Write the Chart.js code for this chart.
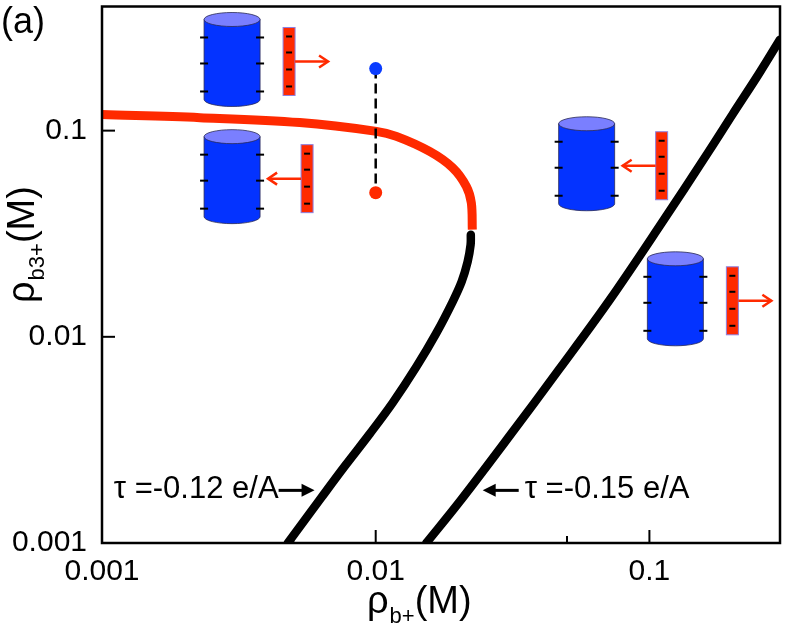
<!DOCTYPE html>
<html><head><meta charset="utf-8">
<script src="https://cdn.jsdelivr.net/npm/chart.js@4.4.1/dist/chart.umd.min.js"></script>
<style>html,body{margin:0;padding:0;background:#fff}#wrap{width:789px;height:632px;position:relative}</style>
</head><body><div id="wrap"><canvas id="c"></canvas></div>
<script>
const FONT = '"Liberation Sans", Arial, Helvetica, sans-serif';

// ---- axes ----
const xRange = [0.001, 0.3];
const yRange = [0.001, 0.4];
const xTickValues = [0.001, 0.01, 0.1];
const xTickLabels = ['0.001', '0.01', '0.1'];
const xMinorTicks = [0.005, 0.05];
const yTickValues = [0.001, 0.01, 0.1];
const yTickLabels = ['0.001', '0.01', '0.1'];

// ---- curves ----
const redBranchX = [0.001, 0.00228, 0.00528, 0.01006, 0.0119, 0.01574, 0.0191, 0.02143, 0.02235, 0.02254];
const redBranchY = [0.1196, 0.1156, 0.1094, 0.0992, 0.0938, 0.0793, 0.0661, 0.0537, 0.0447, 0.0331];

const tau12X = [0.004774, 0.006352, 0.007771, 0.009508, 0.01153, 0.01408, 0.01665, 0.0191, 0.0206, 0.02167, 0.02222, 0.02226];
const tau12Y = [0.001, 0.001671, 0.002391, 0.003382, 0.004782, 0.007152, 0.01042, 0.01479, 0.01849, 0.02313, 0.02797, 0.03127];

const tau15X = [0.01531, 0.02026, 0.03084, 0.04693, 0.07145, 0.1088, 0.1656, 0.2014, 0.2521, 0.3];
const tau15Y = [0.001, 0.001587, 0.003307, 0.006993, 0.01504, 0.03431, 0.0801, 0.1201, 0.1901, 0.2765];

const connectorX = [0.01, 0.01];
const connectorY = [0.2, 0.05];
const blueDotX = [0.01], blueDotY = [0.2];
const redDotX = [0.01], redDotY = [0.05];

// ---- schematic icons (anchor = cylinder left edge / top ellipse centre) ----
const iconX = [0.00236, 0.00236, 0.0466, 0.0983];
const iconY = [0.346, 0.0935, 0.108, 0.0239];
const iconOutward = [true, false, false, true];

// ---- annotations ----
const annotTipX = [0.00598, 0.0246];
const annotTipY = [0.0018, 0.0018];
const annotTexts = ['τ =-0.12 e/A', 'τ =-0.15 e/A'];
const annotSide = ['left', 'right'];

const RED = '#ff2a00';
const BLUE = '#0a3cff';

function pts(xs, ys) { return xs.map((v, i) => ({x: v, y: ys[i]})); }

function line(ctx, x1, y1, x2, y2) { ctx.beginPath(); ctx.moveTo(x1, y1); ctx.lineTo(x2, y2); ctx.stroke(); }

function drawCylinder(ctx, left, cy) {
  const w = 56, h = 80, ry = 7, rx = w / 2, cx = left + rx;
  ctx.save();
  ctx.fillStyle = '#0433ff';
  ctx.strokeStyle = '#2a2a55';
  ctx.lineWidth = 0.8;
  ctx.beginPath();
  ctx.moveTo(left, cy);
  ctx.lineTo(left, cy + h);
  ctx.ellipse(cx, cy + h, rx, ry, 0, Math.PI, 0, true);
  ctx.lineTo(left + w, cy);
  ctx.closePath();
  ctx.fill();
  ctx.stroke();
  ctx.fillStyle = '#7a7fff';
  ctx.beginPath();
  ctx.ellipse(cx, cy, rx, ry, 0, 0, Math.PI * 2);
  ctx.fill();
  ctx.stroke();
  ctx.strokeStyle = '#000';
  ctx.lineWidth = 2;
  [18, 44, 72].forEach(o => {
    line(ctx, left - 4, cy + o, left + 4, cy + o);
    line(ctx, left + w - 4, cy + o, left + w + 4, cy + o);
  });
  ctx.restore();
}

function drawBar(ctx, left, cy, outward) {
  const bx = left + (outward ? 79 : 97), by = cy + 8, bw = 12, bh = 68;
  ctx.save();
  ctx.fillStyle = RED;
  ctx.fillRect(bx, by, bw, bh);
  ctx.strokeStyle = '#8d80e0';
  ctx.lineWidth = 1;
  ctx.strokeRect(bx, by, bw, bh);
  ctx.strokeStyle = '#000';
  ctx.lineWidth = 2;
  [9, 25, 42, 59].forEach(o => line(ctx, bx + 3, by + o, bx + 9, by + o));
  const ay = by + 34;
  ctx.strokeStyle = RED;
  ctx.lineWidth = 2.5;
  let x1, x2, dir;
  if (outward) { x1 = bx + bw; x2 = bx + bw + 33; dir = 1; }
  else { x1 = bx; x2 = bx - 33; dir = -1; }
  line(ctx, x1, ay, x2, ay);
  ctx.beginPath();
  ctx.moveTo(x2 - dir * 9, ay - 6);
  ctx.lineTo(x2, ay);
  ctx.lineTo(x2 - dir * 9, ay + 6);
  ctx.stroke();
  ctx.restore();
}

function drawBlackArrow(ctx, tipX, tipY, dir) {
  ctx.save();
  ctx.strokeStyle = '#000';
  ctx.fillStyle = '#000';
  ctx.lineWidth = 3;
  line(ctx, tipX - dir * 36, tipY, tipX - dir * 8, tipY);
  ctx.beginPath();
  ctx.moveTo(tipX, tipY);
  ctx.lineTo(tipX - dir * 13, tipY - 6.5);
  ctx.lineTo(tipX - dir * 13, tipY + 6.5);
  ctx.closePath();
  ctx.fill();
  ctx.restore();
}

function drawLabelWithSub(ctx, x, y, main1, sub, main2, big, small, subOff) {
  ctx.font = big + 'px ' + FONT;
  ctx.textBaseline = 'alphabetic';
  ctx.textAlign = 'left';
  ctx.fillText(main1, x, y);
  let cx = x + ctx.measureText(main1).width + 1;
  ctx.font = small + 'px ' + FONT;
  ctx.fillText(sub, cx, y + subOff);
  cx += ctx.measureText(sub).width;
  ctx.font = big + 'px ' + FONT;
  ctx.fillText(main2, cx, y);
}

const decor = {
  id: 'decor',
  beforeDatasetsDraw(chart) {
    const {ctx, chartArea: a, scales: {x, y}} = chart;
    ctx.save();
    ctx.strokeStyle = '#000';
    ctx.lineWidth = 2;
    xTickValues.forEach(v => { const p = x.getPixelForValue(v); line(ctx, p, a.bottom, p, a.bottom - 13); });
    xMinorTicks.forEach(v => { const p = x.getPixelForValue(v); line(ctx, p, a.bottom, p, a.bottom - 7); });
    yTickValues.forEach(v => { const p = y.getPixelForValue(v); line(ctx, a.left, p, a.left + 13, p); });
    ctx.restore();
  },
  afterDatasetsDraw(chart) {
    const {ctx, chartArea: a, scales: {x, y}} = chart;
    ctx.save();
    ctx.strokeStyle = '#000';
    ctx.lineWidth = 2.5;
    ctx.strokeRect(a.left, a.top, a.right - a.left, a.bottom - a.top);
    iconX.forEach((v, i) => {
      const px = x.getPixelForValue(v), py = y.getPixelForValue(iconY[i]);
      drawCylinder(ctx, px, py);
      drawBar(ctx, px, py, iconOutward[i]);
    });
    ctx.fillStyle = '#000';
    ctx.font = '31px ' + FONT;
    ctx.textBaseline = 'middle';
    annotTipX.forEach((v, i) => {
      const px = x.getPixelForValue(v), py = y.getPixelForValue(annotTipY[i]);
      if (annotSide[i] === 'left') {
        drawBlackArrow(ctx, px, py, 1);
        ctx.textAlign = 'right';
        ctx.fillText(annotTexts[i], px - 36, py - 1);
      } else {
        drawBlackArrow(ctx, px, py, -1);
        ctx.textAlign = 'left';
        ctx.fillText(annotTexts[i], px + 42, py - 1);
      }
    });
    ctx.restore();
  },
  afterDraw(chart) {
    const ctx = chart.ctx;
    ctx.save();
    ctx.fillStyle = '#000';
    ctx.font = '36px ' + FONT;
    ctx.textAlign = 'left';
    ctx.textBaseline = 'alphabetic';
    ctx.fillText('(a)', 1, 33);
    drawLabelWithSub(ctx, 367, 613, 'ρ', 'b+', '(M)', 38, 22, 10);
    ctx.translate(34, 303);
    ctx.rotate(-Math.PI / 2);
    drawLabelWithSub(ctx, 0, 0, 'ρ', 'b3+', '(M)', 38, 22, 10);
    ctx.restore();
  }
};

const lineDefaults = {pointRadius: 0, fill: false, clip: 0, tension: 0.35};

new Chart(document.getElementById('c'), {
  type: 'line',
  data: {
    datasets: [
      {data: pts(blueDotX, blueDotY), showLine: false, pointRadius: 6.5, pointBackgroundColor: BLUE, pointBorderWidth: 0, borderColor: BLUE},
      {data: pts(redDotX, redDotY), showLine: false, pointRadius: 6.5, pointBackgroundColor: RED, pointBorderWidth: 0, borderColor: RED},
      Object.assign({}, lineDefaults, {data: pts(connectorX, connectorY), borderColor: '#000', borderWidth: 2.5, borderDash: [10, 5], tension: 0}),
      Object.assign({}, lineDefaults, {data: pts(tau12X, tau12Y), borderColor: '#000', borderWidth: 8.5, borderCapStyle: 'round'}),
      Object.assign({}, lineDefaults, {data: pts(redBranchX, redBranchY), borderColor: RED, borderWidth: 9, borderCapStyle: 'butt'}),
      Object.assign({}, lineDefaults, {data: pts(tau15X, tau15Y), borderColor: '#000', borderWidth: 8.5, borderCapStyle: 'round'})
    ]
  },
  options: {
    responsive: true,
    maintainAspectRatio: false,
    animation: false,
    events: [],
    layout: {padding: {top: 6, right: 9, left: 0, bottom: 0}},
    plugins: {legend: {display: false}, tooltip: {enabled: false}},
    scales: {
      x: {
        type: 'logarithmic', position: 'bottom', min: xRange[0], max: xRange[1],
        grid: {display: false, drawTicks: false}, border: {display: false},
        afterBuildTicks: s => { s.ticks = xTickValues.map(v => ({value: v})); },
        afterFit: s => { s.height = 89; s.paddingLeft = 0; s.paddingRight = 0; },
        ticks: {
          autoSkip: false, maxRotation: 0, padding: 11, color: '#000',
          font: {family: FONT, size: 30},
          callback: v => { const i = xTickValues.indexOf(v); return i >= 0 ? xTickLabels[i] : ''; }
        }
      },
      y: {
        type: 'logarithmic', position: 'left', min: yRange[0], max: yRange[1],
        grid: {display: false, drawTicks: false}, border: {display: false},
        afterBuildTicks: s => { s.ticks = yTickValues.map(v => ({value: v})); },
        afterFit: s => { s.width = 102; s.paddingTop = 0; s.paddingBottom = 0; },
        ticks: {
          autoSkip: false, padding: 15, color: '#000',
          font: {family: FONT, size: 30},
          callback: v => { const i = yTickValues.indexOf(v); return i >= 0 ? yTickLabels[i] : ''; }
        }
      }
    }
  },
  plugins: [decor]
});
</script>
</body></html>
